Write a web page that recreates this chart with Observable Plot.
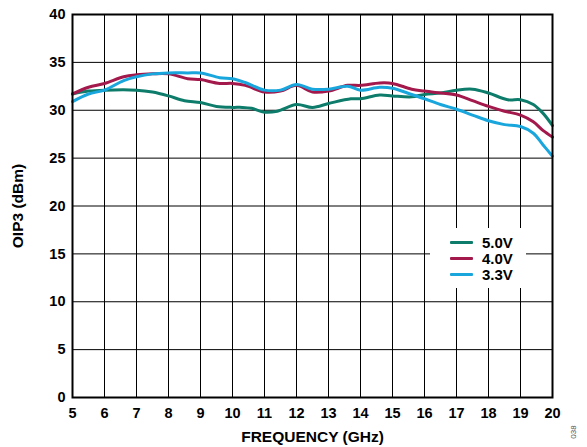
<!DOCTYPE html>
<html>
<head>
<meta charset="utf-8">
<script src="https://cdn.jsdelivr.net/npm/d3@7"></script>
<script src="https://cdn.jsdelivr.net/npm/@observablehq/plot@0.6"></script>
<style>
  html, body { margin: 0; padding: 0; background: #fff; }
  #wrap { position: relative; width: 587px; height: 447px; font-family: "Liberation Sans", Arial, sans-serif; }
  #legend { position: absolute; left: 430px; top: 228px; width: 96px; height: 60px; background: #fff; }
  .row { position: absolute; left: 0; height: 16px; display: flex; align-items: center; }
  .sw { width: 23px; height: 3px; margin-left: 20px; margin-right: 9px; border-radius: 1px; }
  .lbl { font-weight: bold; font-size: 15px; color: #000; }
  #fig { position: absolute; left: 573px; top: 432px; transform: translate(-50%, -50%) rotate(-90deg); font-size: 8px; color: #555; }
</style>
</head>
<body>
<div id="wrap"></div>
<script>
const seriesNames = ["5.0V", "4.0V", "3.3V"];
const seriesColors = ["#0E7C6B", "#A3194B", "#19A6DC"];

const xTeal = [5,5.5,6,7,7.5,8,8.5,9,9.5,10,10.3,10.6,11,11.4,12,12.5,13,13.7,14,14.6,15,15.6,16,16.5,17,17.5,18,18.6,19,19.4,19.7,20];
const yTeal = [31.7,32.0,32.1,32.1,31.9,31.5,31.0,30.8,30.4,30.3,30.3,30.2,29.8,29.9,30.6,30.3,30.7,31.2,31.2,31.6,31.5,31.4,31.65,31.8,32.1,32.2,31.8,31.1,31.1,30.6,29.7,28.4];

const xMaroon = [5,5.5,6,6.6,7,7.5,8,8.6,9,9.6,10,10.4,11,11.5,12,12.5,13,13.6,14,14.6,15,15.6,16,16.5,17,17.5,18,18.5,19,19.4,19.7,20];
const yMaroon = [31.7,32.4,32.8,33.5,33.7,33.8,33.8,33.3,33.2,32.8,32.8,32.6,31.9,32.0,32.6,31.9,32.0,32.6,32.6,32.85,32.8,32.2,32.0,31.8,31.6,31.0,30.4,29.9,29.5,28.8,27.9,27.2];

const xCyan = [5,5.5,6,6.6,7,7.5,8,8.6,9,9.6,10,10.4,11,11.5,12,12.5,13,13.6,14,14.6,15,15.6,16,16.5,17,17.5,18,18.5,19,19.4,19.7,20];
const yCyan = [30.9,31.7,32.1,33.1,33.5,33.8,33.9,33.9,33.9,33.4,33.3,32.9,32.1,32.1,32.7,32.2,32.2,32.5,32.1,32.4,32.3,31.65,31.2,30.6,30.1,29.5,28.9,28.5,28.3,27.6,26.4,25.2];

const xTicks = [5,6,7,8,9,10,11,12,13,14,15,16,17,18,19,20];
const yTicks = [0,5,10,15,20,25,30,35,40];
const xTitle = "FREQUENCY (GHz)";
const yTitle = "OIP3 (dBm)";

const data = [];
[[xTeal, yTeal], [xMaroon, yMaroon], [xCyan, yCyan]].forEach(([xs, ys], i) => {
  xs.forEach((x, j) => data.push({series: seriesNames[i], f: x, v: ys[j]}));
});

const chart = Plot.plot({
  width: 587,
  height: 447,
  marginLeft: 72,
  marginRight: 35,
  marginTop: 14,
  marginBottom: 50,
  style: {fontFamily: "'Liberation Sans', Arial, sans-serif", fontSize: "14px", fontWeight: "bold", color: "#000", background: "#fff"},
  x: {domain: [5, 20], ticks: xTicks, label: null},
  y: {domain: [0, 40], ticks: yTicks, label: null},
  color: {domain: seriesNames, range: seriesColors},
  marks: [
    Plot.gridX(xTicks, {stroke: "#000", strokeOpacity: 1, strokeWidth: 1}),
    Plot.gridY(yTicks, {stroke: "#000", strokeOpacity: 1, strokeWidth: 1}),
    Plot.axisX(xTicks, {tickSize: 0, tickPadding: 10, fontWeight: "bold", fontSize: 14.5, label: null}),
    Plot.axisY(yTicks, {tickSize: 0, tickPadding: 7, fontWeight: "bold", fontSize: 14.5, label: null}),
    Plot.line(data, {x: "f", y: "v", z: "series", stroke: "series", strokeWidth: 3, curve: "catmull-rom"}),
    Plot.frame({stroke: "#000", strokeWidth: 2}),
    Plot.text([xTitle], {frameAnchor: "bottom", dy: 40, lineAnchor: "middle", text: d => d, fontSize: 15.5, fontWeight: "bold", textAnchor: "middle"}),
    Plot.text([yTitle], {frameAnchor: "left", dx: -54, rotate: -90, text: d => d, fontSize: 15.5, fontWeight: "bold", textAnchor: "middle"})
  ]
});

const wrap = document.getElementById("wrap");
wrap.appendChild(chart);

const legend = document.createElement("div");
legend.id = "legend";
seriesNames.forEach((name, i) => {
  const row = document.createElement("div");
  row.className = "row";
  row.style.top = (6 + i * 16) + "px";
  const sw = document.createElement("div");
  sw.className = "sw";
  sw.style.background = seriesColors[i];
  const lb = document.createElement("span");
  lb.className = "lbl";
  lb.textContent = name;
  row.appendChild(sw);
  row.appendChild(lb);
  legend.appendChild(row);
});
wrap.appendChild(legend);

const fig = document.createElement("div");
fig.id = "fig";
fig.textContent = "038";
wrap.appendChild(fig);
</script>
</body>
</html>
